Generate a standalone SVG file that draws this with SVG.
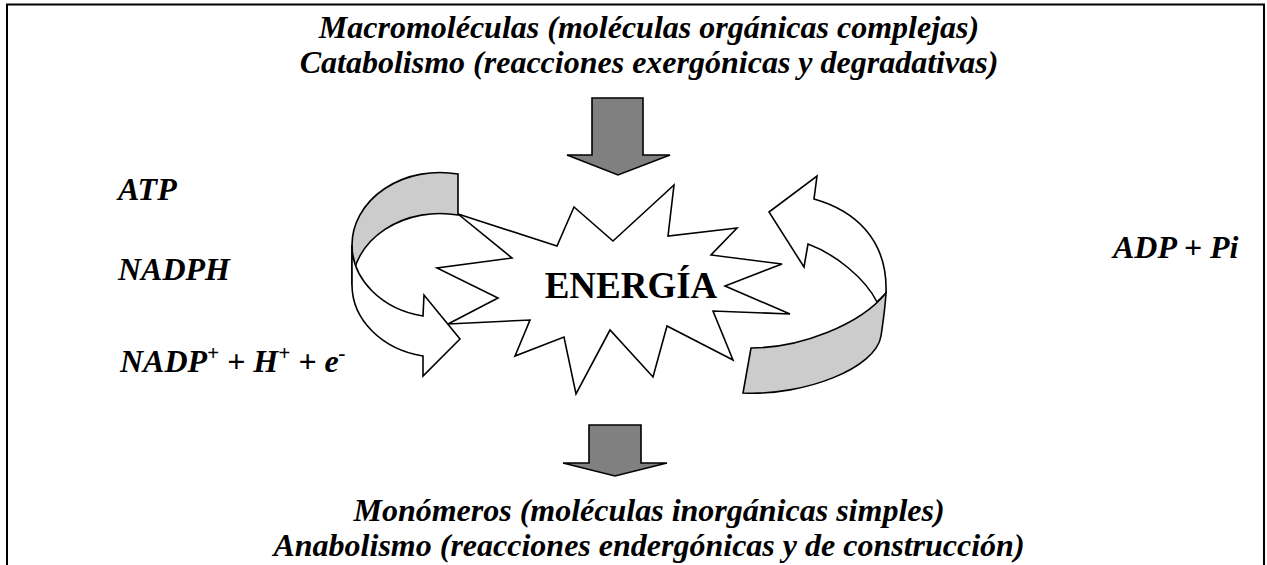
<svg xmlns="http://www.w3.org/2000/svg" width="1267" height="565" viewBox="0 0 1267 565">
<style>
.t{font-family:"Liberation Serif","Times New Roman",serif;font-weight:bold;font-style:italic;font-size:32px;fill:#000}
.ln{fill:none;stroke:#000;stroke-width:2}
.sh{stroke:#000;stroke-width:1.6;stroke-linejoin:miter}
.big{fill:#808080}
.lite{fill:#cccccc}
.wh{fill:#fff}
</style>
<rect x="0" y="0" width="1267" height="565" fill="#fff"/>
<path class="ln" d="M7,566 V4.5 H1264 V566"/>
<g id="top-text">
<text class="t" x="649" y="38" text-anchor="middle">Macromoléculas (moléculas orgánicas complejas)</text>
<text class="t" x="649" y="73" text-anchor="middle">Catabolismo (reacciones exergónicas y degradativas)</text>
</g>
<g id="bottom-text">
<text class="t" x="649" y="521" text-anchor="middle">Monómeros (moléculas inorgánicas simples)</text>
<text class="t" x="649" y="556" text-anchor="middle">Anabolismo (reacciones endergónicas y de construcción)</text>
</g>
<g id="energia">
<polygon class="sh wh" points="458,214 557,246 574,207 613,241 674,185 668,236 737,228 711,255 782,264 725,286 790,314 713,311 733,360 667,326 653,377 610,330 576,394 564,337 515,356 530,320 448,324 498,298 437,268 512,258"/>
<text x="631" y="298" text-anchor="middle" style="font-family:'Liberation Serif','Times New Roman',serif;font-weight:bold;font-size:37px">ENERGÍA</text>
</g>
<g id="connectors">
<path class="sh big" d="M592,98 H643 V155 H670 L618,175 L567,155 H592 Z"/>
<path class="sh big" d="M589,425 H641 V463 H667 L615,476 L563,463 H589 Z"/>
<g id="left-cycle-arrow">
<path class="sh lite" d="M458,174 A88,72.5 0 0 0 352,245 L352,285 A88,72.5 0 0 1 458,215 Z"/>
<path class="sh wh" d="M352,245 A88,72.5 0 0 0 423,316 L424,295 L460,339 L423,376 L423,356 A88,72.5 0 0 1 352,285 Z"/>
</g>
<g id="right-cycle-arrow">
<path class="sh wh" d="M817,176 L814,199 C853,210 888,238 886,293 L877,302 C865,278 835,254 808,244 L804,267 L769,212 Z"/>
<path class="sh lite" d="M751,348 C800,348 860,325 886,293 C885,310 883,322 881,336 C876,368 805,396 743,393 Z"/>
</g>
</g>
<g id="labels-left">
<text class="t" x="118" y="200">ATP</text>
<text class="t" x="118" y="280">NADPH</text>
<text class="t" x="120" y="372">NADP<tspan dy="-12" font-size="21">+</tspan><tspan dy="12"> + H</tspan><tspan dy="-12" font-size="21">+</tspan><tspan dy="12"> + e</tspan><tspan dy="-12" font-size="21">-</tspan></text>
</g>
<g id="labels-right">
<text class="t" x="1113" y="258">ADP + Pi</text>
</g>
</svg>
